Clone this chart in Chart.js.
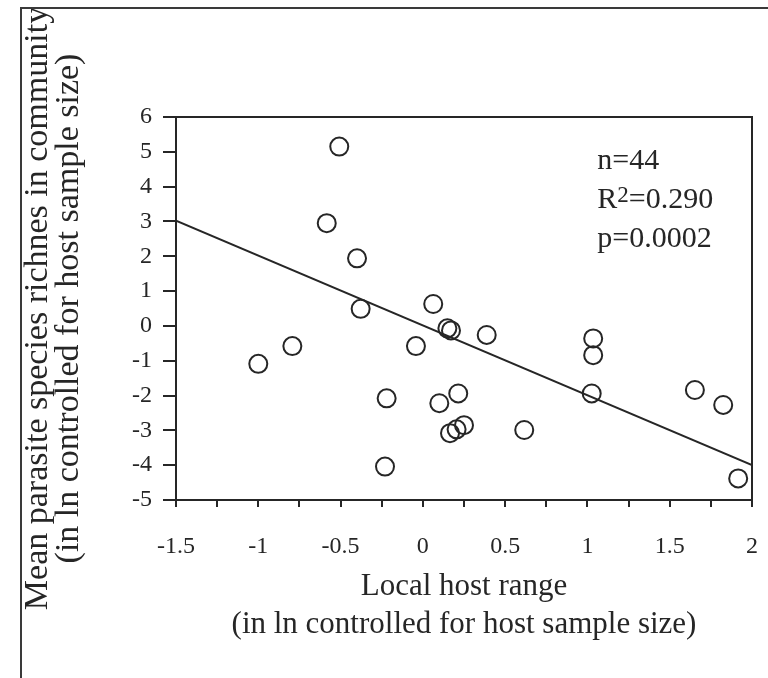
<!DOCTYPE html>
<html>
<head>
<meta charset="utf-8">
<script src="https://cdn.jsdelivr.net/npm/chart.js@4.4.1/dist/chart.umd.min.js"></script>
<style>
  html, body { margin: 0; padding: 0; background: #fff; }
  #wrap { position: relative; width: 768px; height: 678px; overflow: hidden; }
  #frame { position: absolute; left: 20px; top: 7px; right: -4px; bottom: -4px;
           border-left: 2px solid #3a3a3a; border-top: 2px solid #3a3a3a; pointer-events: none; }
  canvas { position: absolute; left: 0; top: 0; }
</style>
</head>
<body>
<div id="wrap">
  <canvas id="c" width="768" height="678"></canvas>
  <div id="frame"></div>
</div>
<script>
// ---- data ----
const hostRange = [-0.508, -0.584, -0.400, -0.378, -1.000, -0.793, 0.063, 0.149, 0.171, 0.388,
                   -0.042, -0.220, 0.100, 0.215, 0.165, 0.205, 0.250, 0.616, -0.230,
                   1.035, 1.035, 1.026, 1.653, 1.825, 1.916];
const richness  = [5.15, 2.95, 1.94, 0.49, -1.09, -0.58, 0.63, -0.07, -0.13, -0.26,
                   -0.58, -2.08, -2.22, -1.94, -3.08, -2.97, -2.85, -2.99, -4.04,
                   -0.36, -0.84, -1.94, -1.84, -2.27, -4.38];
const fitX = [-1.5, 2.0];
const fitY = [3.02, -4.0];
const xTickValues = [-1.5, -1, -0.5, 0, 0.5, 1, 1.5, 2];
const yTickValues = [-5, -4, -3, -2, -1, 0, 1, 2, 3, 4, 5, 6];
const statN = 'n=44';
const statR2 = '0.290';
const statP = 'p=0.0002';
const xTitle = ['Local host range', '(in ln controlled for host sample size)'];
const yTitle = ['Mean parasite species richnes in community', '(in ln controlled for host sample size)'];

const INK = '#262626';
const SERIF = '"Liberation Serif", "Times New Roman", serif';

const points = hostRange.map((x, i) => ({ x: x, y: richness[i] }));
const fitLine = fitX.map((x, i) => ({ x: x, y: fitY[i] }));

const boxPlugin = {
  id: 'box',
  afterDraw(chart) {
    const { ctx, chartArea: a, scales } = chart;
    ctx.save();
    ctx.strokeStyle = INK;
    ctx.lineWidth = 2;
    ctx.beginPath();
    ctx.moveTo(a.left, a.top);
    ctx.lineTo(a.right, a.top);
    ctx.lineTo(a.right, a.bottom);
    ctx.stroke();
    // statistics text
    const x0 = scales.x.getPixelForValue(1.06);
    const y1 = scales.y.getPixelForValue(4.72);
    const y2 = scales.y.getPixelForValue(3.6);
    const y3 = scales.y.getPixelForValue(2.5);
    ctx.fillStyle = INK;
    ctx.textBaseline = 'middle';
    ctx.textAlign = 'left';
    ctx.font = '30px ' + SERIF;
    ctx.fillText(statN, x0, y1);
    ctx.fillText('R', x0, y2);
    let w = ctx.measureText('R').width;
    ctx.font = '23px ' + SERIF;
    ctx.fillText('2', x0 + w, y2 - 5);
    w += ctx.measureText('2').width;
    ctx.font = '30px ' + SERIF;
    ctx.fillText('=' + statR2, x0 + w, y2);
    ctx.fillText(statP, x0, y3);
    ctx.restore();
  }
};

new Chart(document.getElementById('c'), {
  type: 'scatter',
  data: {
    datasets: [
      {
        type: 'line',
        data: fitLine,
        borderColor: INK,
        borderWidth: 2,
        pointRadius: 0,
        fill: false,
        tension: 0
      },
      {
        data: points,
        pointRadius: 9,
        pointBorderWidth: 2,
        pointBackgroundColor: 'rgba(0,0,0,0)',
        pointBorderColor: INK,
        borderColor: INK,
        backgroundColor: 'rgba(0,0,0,0)'
      }
    ]
  },
  plugins: [boxPlugin],
  options: {
    responsive: false,
    animation: false,
    devicePixelRatio: 1,
    layout: { padding: { top: 117, right: 16, left: 0, bottom: 0 } },
    plugins: { legend: { display: false }, tooltip: { enabled: false } },
    scales: {
      x: {
        type: 'linear',
        min: -1.5, max: 2,
        afterFit(s) { s.height = 178; s.paddingLeft = 0; s.paddingRight = 0; },
        border: { display: true, color: INK, width: 2 },
        grid: { drawOnChartArea: false, drawTicks: true, tickLength: 7, color: INK, lineWidth: 2 },
        ticks: {
          stepSize: 0.25,
          autoSkip: false,
          maxRotation: 0,
          padding: 25,
          color: INK,
          font: { family: SERIF, size: 24 },
          callback(v) {
            const r = Math.round(v * 100) / 100;
            return xTickValues.includes(r) ? String(r) : '';
          }
        },
        title: {
          display: true,
          text: xTitle,
          color: INK,
          font: { family: SERIF, size: 31, lineHeight: 1.22 },
          padding: { top: 0, bottom: 34 }
        }
      },
      y: {
        type: 'linear',
        min: -5, max: 6,
        afterFit(s) { s.width = 176; s.paddingTop = 0; s.paddingBottom = 0; },
        border: { display: true, color: INK, width: 2 },
        grid: { drawOnChartArea: false, drawTicks: true, tickLength: 13, color: INK, lineWidth: 2 },
        ticks: {
          stepSize: 1,
          padding: 11,
          color: INK,
          font: { family: SERIF, size: 24 },
          callback(v) { return yTickValues.includes(v) ? String(v) : ''; }
        },
        title: {
          display: true,
          text: yTitle,
          color: INK,
          font: { family: SERIF, size: 34, lineHeight: 0.92 },
          padding: { top: 22, bottom: 0 }
        }
      }
    }
  }
});
</script>
</body>
</html>
